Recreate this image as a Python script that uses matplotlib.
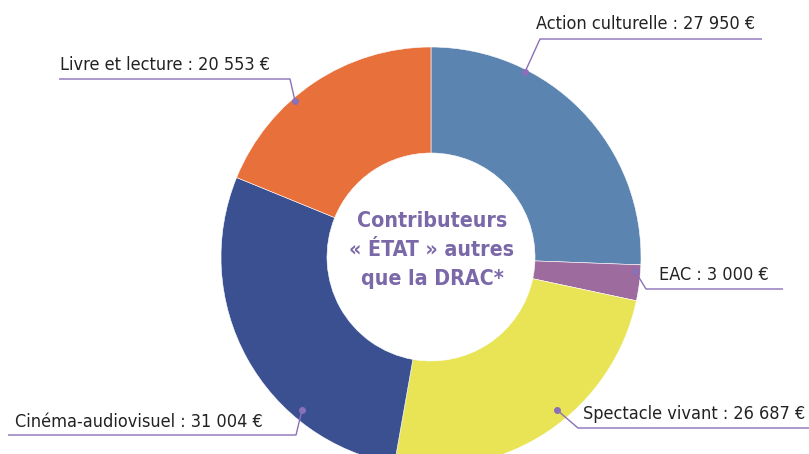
import matplotlib
matplotlib.use("Agg")
import matplotlib.pyplot as plt
from matplotlib import font_manager
from matplotlib.font_manager import FontProperties

categories = ["Action culturelle", "EAC", "Spectacle vivant", "Cinéma-audiovisuel", "Livre et lecture"]
values = [27950, 3000, 26687, 31004, 20553]
labels = ["Action culturelle : 27 950 €", "EAC : 3 000 €", "Spectacle vivant : 26 687 €",
          "Cinéma-audiovisuel : 31 004 €", "Livre et lecture : 20 553 €"]
colors = ["#5b84b1", "#9e6b9e", "#e8e455", "#3b5091", "#e8703a"]
center_text = "Contributeurs\n« ÉTAT » autres\nque la DRAC*"


def find_font(bold):
    cands = []
    for f in font_manager.fontManager.ttflist:
        fn = f.fname.lower()
        if ("condensed" in fn or "narrow" in fn or f.stretch in ("condensed", "semi-condensed")) \
                and "italic" not in fn and "oblique" not in fn:
            w = f.weight if isinstance(f.weight, int) else (700 if "bold" in str(f.weight) else 400)
            isbold = w >= 600
            if isbold == bold and ("light" not in fn and "thin" not in fn and "black" not in fn):
                cands.append(f.fname)
    cands.sort()
    if cands:
        return FontProperties(fname=cands[0])
    return FontProperties(family=["Lato", "DejaVu Sans"], weight="bold" if bold else "normal")


fp_reg = find_font(False)
fp_bold = find_font(True)

W, H = 809, 454
fig = plt.figure(figsize=(W / 100, H / 100), dpi=100)
ax = fig.add_axes([0, 0, 1, 1])

cx, cy = 431, H - 257
R, r_in = 210, 104
ax.pie(values, colors=colors, startangle=90, counterclock=False, center=(cx, cy), radius=R,
       wedgeprops=dict(width=R - r_in, edgecolor="white", linewidth=0.4), frame=True)
ax.set_xlim(0, W)
ax.set_ylim(0, H)
ax.set_aspect("equal")
ax.axis("off")

renderer = fig.canvas.get_renderer()


def fit_size(text, fp, target_w, base=14):
    t = ax.text(0, 0, text, fontproperties=fp, fontsize=base)
    w = t.get_window_extent(renderer).width
    t.remove()
    return base * target_w / w


ct = ax.text(cx + 1, H - 250, center_text, ha="center", va="center", color="#7b68a8",
             fontproperties=fp_bold, fontsize=17.5, linespacing=1.55)
sz_c = fit_size("« ÉTAT » autres", fp_bold, 164, 17.5)
ct.set_fontsize(min(sz_c, 21))

line_c = "#8a70b8"
sz = fit_size(labels[0], fp_reg, 220)
sz = min(sz, 16)
# (dot, elbow, end, text x, text y)
leaders = [
    ((525, 72), (540, 39), (762, 39), 536, 24),
    ((635, 271), (646, 289), (783, 289), 659, 275),
    ((557, 410), (578, 428), (809, 428), 583, 414),
    ((302, 410), (296, 435), (8, 435), 15, 422),
    ((295, 101), (290, 79), (59, 79), 60, 65),
]
for lab, (d, e, en, tx, ty) in zip(labels, leaders):
    ax.plot([d[0], e[0], en[0]], [H - d[1], H - e[1], H - en[1]], color=line_c, lw=1.0,
            solid_capstyle="butt")
    ax.plot([d[0]], [H - d[1]], "o", color=line_c, ms=4)
    ax.text(tx, H - ty, lab, ha="left", va="center", fontsize=sz, color="#222222",
            fontproperties=fp_reg)

fig.savefig("out.png", dpi=100)
